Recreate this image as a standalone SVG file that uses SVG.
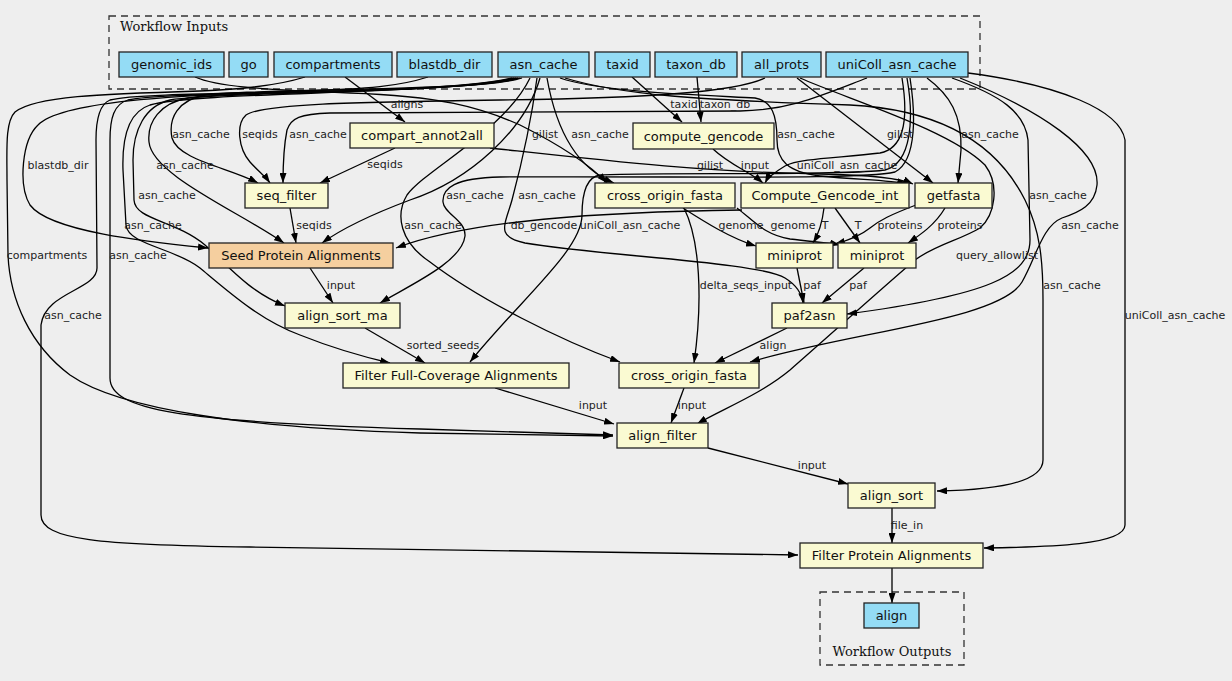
<svg xmlns="http://www.w3.org/2000/svg" width="1232" height="681" viewBox="0 0 1232 681">
<defs>
<marker id="ah" markerWidth="10" markerHeight="7" refX="10" refY="3.5" orient="auto" markerUnits="userSpaceOnUse"><path d="M0,0 L10,3.5 L0,7 z" fill="#000"/></marker>
<style>
.e{fill:none;stroke:#000;stroke-width:1.3;marker-end:url(#ah)}
.n rect{stroke:#222;stroke-width:1.3}
.in rect{fill:#94dcf5}
.st rect{fill:#fafad2}
.sd rect{fill:#f5cf9f}
.n text{font-family:"DejaVu Sans",sans-serif;font-size:13px;fill:#111;text-anchor:middle}
.el{font-family:"DejaVu Sans",sans-serif;font-size:11px;fill:#222;text-anchor:middle}
.cl{fill:none;stroke:#333;stroke-width:1.3;stroke-dasharray:7,5}
.ct{font-family:"DejaVu Serif",serif;font-size:13px;fill:#111}
</style>
</defs>
<rect width="1232" height="681" fill="#eeeeee"/>
<g id="cluster_inputs"><rect class="cl" x="109" y="16" width="871" height="73"/><text class="ct" x="120" y="31">Workflow Inputs</text></g>
<g id="cluster_outputs"><rect class="cl" x="820" y="592" width="144" height="73"/><text class="ct" x="892" y="656" text-anchor="middle">Workflow Outputs</text></g>
<g id="connectors">
<path class="e" d="M345,77 L405,122"/>
<path class="e" d="M632,77 L682,122"/>
<path class="e" d="M697,77 L701,122"/>
<path class="e" d="M713,149 C730,165 750,172 763,183"/>
<path class="e" d="M395,148 L320,183"/>
<path class="e" d="M490,148 C600,160 700,172 820,174 C870,175 900,178 913,184"/>
<path class="e" d="M290,208 L296,243"/>
<path class="e" d="M310,268 L333,303"/>
<path class="e" d="M365,328 L425,363"/>
<path class="e" d="M495,388 L614,424"/>
<path class="e" d="M684,388 L671,423"/>
<path class="e" d="M708,448 L848,484"/>
<path class="e" d="M892,508 L892,543"/>
<path class="e" d="M892,568 L892,603"/>
<path class="e" d="M824,208 C822,225 818,235 813,243"/>
<path class="e" d="M835,208 L860,243"/>
<path class="e" d="M916,205 C890,215 880,220 870,228 C860,236 850,240 835,244"/>
<path class="e" d="M945,208 C935,225 920,235 908,243"/>
<path class="e" d="M683,208 C705,222 730,238 756,246"/>
<path class="e" d="M737,208 C755,222 765,235 790,239 C815,242 830,243 840,245"/>
<path class="e" d="M797,268 L804,303"/>
<path class="e" d="M864,268 L822,303"/>
<path class="e" d="M787,328 L715,363"/>
<path class="e" d="M684,208 C700,240 703,300 694,363"/>
<path class="e" d="M742,210 C600,212 470,220 396,248"/>
<path class="e" d="M522,78 C480,92 260,88 205,95 C178,100 168,118 172,138 C178,160 230,168 258,183"/>
<path class="e" d="M520,78 C470,93 240,90 188,98 C160,103 147,122 149,142 C152,175 240,212 284,243"/>
<path class="e" d="M518,78 C460,94 220,91 170,100 C145,106 133,130 133,160 L134,200 C135,220 175,220 205,245 C230,268 250,292 285,306"/>
<path class="e" d="M516,78 C450,95 200,91 150,105 C128,112 122,140 123,170 L126,225 C128,245 175,248 200,268 C230,293 260,320 300,335 C330,347 360,356 390,363"/>
<path class="e" d="M514,78 C440,96 170,90 128,100 C114,104 110,118 110,140 L110,378 C110,410 180,422 420,429 L613,435"/>
<path class="e" d="M305,77 C280,85 250,89 200,91 C100,94 35,96 15,112 C5,122 7,150 7,180 L8,255 C10,300 30,345 70,375 C120,410 250,428 420,433 L613,436"/>
<path class="e" d="M512,78 C430,97 150,89 110,100 C100,104 96,118 96,140 L97,268 C97,290 45,292 41,325 L41,515 C41,540 100,545 250,547 L798,555"/>
<path class="e" d="M428,77 C400,86 370,89 300,91 C170,95 60,102 38,125 C22,140 18,185 30,205 C50,232 150,242 208,248"/>
<path class="e" d="M765,78 C735,92 650,98 500,100 C350,102 262,104 246,115 C236,124 238,148 250,162 C258,171 265,176 270,183"/>
<path class="e" d="M867,78 C820,96 790,110 740,111 L330,113 C300,114 291,118 287,130 C283,150 283,170 283,183"/>
<path class="e" d="M195,77 C215,86 260,90 350,93 C440,96 480,107 520,125 C560,145 590,165 607,183"/>
<path class="e" d="M547,78 C553,112 568,165 614,183"/>
<path class="e" d="M540,78 C525,130 470,180 410,200 C370,215 340,230 322,243"/>
<path class="e" d="M910,78 C915,110 918,160 895,172 C860,180 700,176 500,177 C455,178 442,188 443,202 C444,214 466,220 465,236 C462,262 410,285 380,303"/>
<path class="e" d="M530,78 C505,130 425,170 407,195 C395,215 400,242 430,262 C480,300 560,340 620,362"/>
<path class="e" d="M537,78 C530,130 520,170 512,200 C505,225 495,237 525,243 C600,256 760,262 785,278 C798,286 802,295 803,303"/>
<path class="e" d="M907,78 C914,118 912,163 885,170 C850,176 650,172 600,175 C586,177 582,195 582,215 C582,250 520,300 470,362"/>
<path class="e" d="M902,78 C908,115 906,148 880,153 C840,158 800,158 785,166 C775,172 768,177 765,183"/>
<path class="e" d="M797,78 L933,183"/>
<path class="e" d="M560,78 C600,92 700,95 755,98 C772,101 777,115 777,140 C777,160 787,172 820,176 C860,180 890,180 907,184"/>
<path class="e" d="M927,78 C950,95 962,115 961,150 L958,183"/>
<path class="e" d="M952,78 C1000,95 1025,112 1028,140 L1030,240 C1030,275 990,295 847,314"/>
<path class="e" d="M960,78 C1040,110 1100,150 1097,185 C1095,205 1080,212 1062,218 C1042,226 1036,258 1022,282 C1000,320 850,332 750,362"/>
<path class="e" d="M968,73 C1060,85 1120,110 1125,140 L1125,525 C1125,545 1050,547 984,548"/>
<path class="e" d="M565,78 C620,95 700,100 850,105 C950,110 1000,150 1025,200 C1040,230 1043,260 1043,300 L1043,460 C1043,482 1000,490 937,491"/>
<path class="e" d="M800,78 C850,100 950,130 985,165 C1000,185 995,215 980,228 C960,240 935,245 915,260 C880,290 830,335 790,370 C760,395 720,410 697,424"/>
</g>
<g id="edge_labels">
<text class="el" x="407" y="108">aligns</text>
<text class="el" x="684" y="108">taxid</text>
<text class="el" x="725" y="108">taxon_db</text>
<text class="el" x="201" y="138">asn_cache</text>
<text class="el" x="260" y="138">seqids</text>
<text class="el" x="318" y="138">asn_cache</text>
<text class="el" x="545" y="138">gilist</text>
<text class="el" x="600" y="138">asn_cache</text>
<text class="el" x="806" y="138">asn_cache</text>
<text class="el" x="900" y="138">gilist</text>
<text class="el" x="990" y="138">asn_cache</text>
<text class="el" x="58" y="169">blastdb_dir</text>
<text class="el" x="185" y="169">asn_cache</text>
<text class="el" x="385" y="168">seqids</text>
<text class="el" x="710" y="169">gilist</text>
<text class="el" x="755" y="169">input</text>
<text class="el" x="847" y="169">uniColl_asn_cache</text>
<text class="el" x="167" y="199">asn_cache</text>
<text class="el" x="475" y="199">asn_cache</text>
<text class="el" x="547" y="199">asn_cache</text>
<text class="el" x="1058" y="199">asn_cache</text>
<text class="el" x="314" y="229">seqids</text>
<text class="el" x="153" y="229">asn_cache</text>
<text class="el" x="433" y="229">asn_cache</text>
<text class="el" x="544" y="229">db_gencode</text>
<text class="el" x="630" y="229">uniColl_asn_cache</text>
<text class="el" x="741" y="229">genome</text>
<text class="el" x="793" y="229">genome</text>
<text class="el" x="825" y="229">T</text>
<text class="el" x="858" y="229">T</text>
<text class="el" x="900" y="229">proteins</text>
<text class="el" x="960" y="229">proteins</text>
<text class="el" x="1090" y="229">asn_cache</text>
<text class="el" x="47" y="259">compartments</text>
<text class="el" x="138" y="259">asn_cache</text>
<text class="el" x="997" y="259">query_allowlist</text>
<text class="el" x="341" y="289">input</text>
<text class="el" x="746" y="289">delta_seqs_input</text>
<text class="el" x="812" y="289">paf</text>
<text class="el" x="858" y="289">paf</text>
<text class="el" x="1072" y="289">asn_cache</text>
<text class="el" x="73" y="319">asn_cache</text>
<text class="el" x="1175" y="319">uniColl_asn_cache</text>
<text class="el" x="443" y="349">sorted_seeds</text>
<text class="el" x="773" y="349">align</text>
<text class="el" x="593" y="409">input</text>
<text class="el" x="692" y="409">input</text>
<text class="el" x="812" y="469">input</text>
<text class="el" x="907" y="529">file_in</text>
</g>
<g id="genomic_ids" class="n in"><rect x="119" y="52" width="105" height="25"/><text x="171.5" y="69">genomic_ids</text></g>
<g id="go" class="n in"><rect x="229" y="52" width="39" height="25"/><text x="248.5" y="69">go</text></g>
<g id="compartments" class="n in"><rect x="274" y="52" width="118" height="25"/><text x="333" y="69">compartments</text></g>
<g id="blastdb_dir" class="n in"><rect x="397" y="52" width="95" height="25"/><text x="444.5" y="69">blastdb_dir</text></g>
<g id="asn_cache" class="n in"><rect x="498" y="52" width="91" height="25"/><text x="543.5" y="69">asn_cache</text></g>
<g id="taxid" class="n in"><rect x="595" y="52" width="55" height="25"/><text x="622.5" y="69">taxid</text></g>
<g id="taxon_db" class="n in"><rect x="655" y="52" width="82" height="25"/><text x="696" y="69">taxon_db</text></g>
<g id="all_prots" class="n in"><rect x="742" y="52" width="79" height="25"/><text x="781.5" y="69">all_prots</text></g>
<g id="uniColl_asn_cache" class="n in"><rect x="826" y="52" width="142" height="25"/><text x="897" y="69">uniColl_asn_cache</text></g>
<g id="compart_annot2all" class="n st"><rect x="350" y="123" width="144" height="25"/><text x="422" y="140">compart_annot2all</text></g>
<g id="compute_gencode" class="n st"><rect x="633" y="123" width="141" height="26"/><text x="703.5" y="140.5">compute_gencode</text></g>
<g id="seq_filter" class="n st"><rect x="245" y="183" width="83" height="25"/><text x="286.5" y="200">seq_filter</text></g>
<g id="cross_origin_fasta_1" class="n st"><rect x="595" y="183" width="140" height="25"/><text x="665" y="200">cross_origin_fasta</text></g>
<g id="Compute_Gencode_int" class="n st"><rect x="741" y="183" width="168" height="25"/><text x="825" y="200">Compute_Gencode_int</text></g>
<g id="getfasta" class="n st"><rect x="915" y="183" width="77" height="25"/><text x="953.5" y="200">getfasta</text></g>
<g id="seed_protein_alignments" class="n sd"><rect x="209" y="243" width="184" height="25"/><text x="301" y="260">Seed Protein Alignments</text></g>
<g id="miniprot_1" class="n st"><rect x="756" y="243" width="77" height="25"/><text x="794.5" y="260">miniprot</text></g>
<g id="miniprot_2" class="n st"><rect x="838" y="243" width="78" height="25"/><text x="877" y="260">miniprot</text></g>
<g id="align_sort_ma" class="n st"><rect x="285" y="303" width="115" height="25"/><text x="342.5" y="320">align_sort_ma</text></g>
<g id="paf2asn" class="n st"><rect x="772" y="303" width="75" height="25"/><text x="809.5" y="320">paf2asn</text></g>
<g id="filter_full_coverage" class="n st"><rect x="343" y="363" width="226" height="25"/><text x="456" y="380">Filter Full-Coverage Alignments</text></g>
<g id="cross_origin_fasta_2" class="n st"><rect x="619" y="363" width="140" height="25"/><text x="689" y="380">cross_origin_fasta</text></g>
<g id="align_filter" class="n st"><rect x="617" y="423" width="91" height="25"/><text x="662.5" y="440">align_filter</text></g>
<g id="align_sort" class="n st"><rect x="848" y="483" width="87" height="25"/><text x="891.5" y="500">align_sort</text></g>
<g id="filter_protein_alignments" class="n st"><rect x="800" y="543" width="183" height="25"/><text x="891.5" y="560">Filter Protein Alignments</text></g>
<g id="align" class="n in"><rect x="864" y="603" width="55" height="25"/><text x="891.5" y="620">align</text></g>
</svg>
